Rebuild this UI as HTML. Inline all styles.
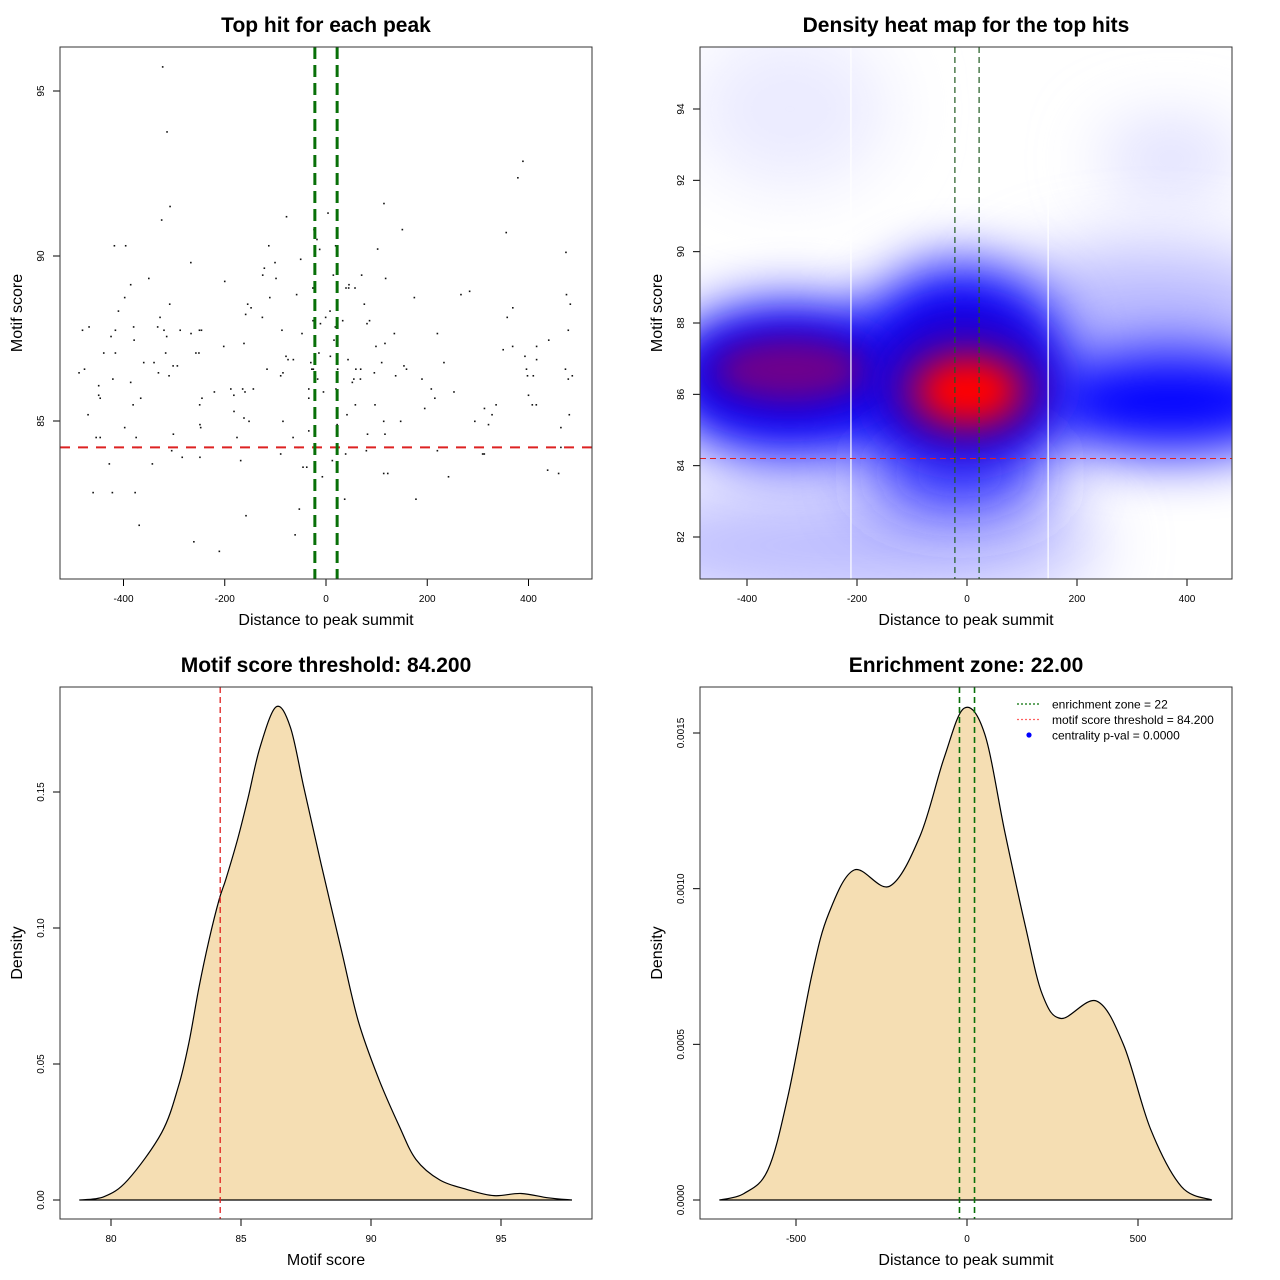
<!DOCTYPE html>
<html><head><meta charset="utf-8"><style>
html,body{margin:0;padding:0;background:#fff;}
svg{display:block;font-family:"Liberation Sans",sans-serif;}
</style></head><body>
<svg id="root" width="1280" height="1280" viewBox="0 0 1280 1280" xmlns="http://www.w3.org/2000/svg">
<defs>
<filter id="b35" filterUnits="userSpaceOnUse" x="500" y="-200" width="1000" height="1000"><feGaussianBlur stdDeviation="35"/></filter>
<filter id="b28" filterUnits="userSpaceOnUse" x="500" y="-200" width="1000" height="1000"><feGaussianBlur stdDeviation="28"/></filter>
<filter id="b20" filterUnits="userSpaceOnUse" x="500" y="-200" width="1000" height="1000"><feGaussianBlur stdDeviation="20"/></filter>
<filter id="b14" filterUnits="userSpaceOnUse" x="500" y="-200" width="1000" height="1000"><feGaussianBlur stdDeviation="14"/></filter>
<clipPath id="clip2"><rect x="700" y="47" width="532" height="532"/></clipPath>
</defs>
</svg>
<script>
// ---------- Panel 1 data (scatter) ----------
const scatterX = [-322.6,-314,-308,-324.6,-418,-395.7,-113,-78,-23.7,-17.8,-12.5,-50,-100.7,-121.8,-125,-98.7,-267,-350,-385.8,-200,-26,-58,-111,-397.6,-308.7,-410,-154.7,-148,-158.7,-125.7,-327.8,-25.7,-11,-0.7,-481,-468,-416,-380,-332.5,-320,-288,-250,-246,-87,-424.6,-379,-314.7,-266.6,-47.4,-202,-162,-439,-416,-316.7,-257,-251,-14,-79,-75,-64.5,-30,-360,-339.7,-302,-293.6,-487.8,-477,-331,-310,-421,-385.8,-116.5,-85,-89.5,-28,-25,-21,-16.5,-449,-449,-446,-366,-381,-245,-249.5,-220.5,-188,-182,-164.6,-160,-143.5,-34,-34,-5,-470,-181.7,-162,-152,-85,-249,-247.5,-397.6,-34,-21.7,-454,-446,-375,-301.5,-175.8,-65,-372,-54.6,-304.8,-284,-249,-89.5,-168.5,-428,-343,-45.4,-38,-7.2,-460,-422,-377,-52.7,-158,-369,-61,-261,-210.7,
389,379,114.5,4,150.8,356,19,102,474,14.5,70.4,117.8,45.4,39.5,44.8,57.3,174.5,266.6,283.7,475,482.6,369,75.7,8,358,23,33,86,81,18.4,478.6,135,220,15.8,116.5,98.7,440,350,368.7,416,8.6,43.5,393,416,110,233,23,59,68.5,154,159,95.5,396,473,137.6,398,409.5,486.5,478.6,55,68,52,189.6,19.7,208,252.8,215,400,58,96.8,336,407.5,415.4,195,313,41.5,328,480.6,114,147.5,294,321,22,464,82,116.5,464,38.8,79.7,220,309.4,312.7,12.5,437.8,459.5,114,122,242,36.9,177.7];
const scatterY = [95.73,93.76,91.5,91.09,90.31,90.31,90.31,91.19,90.8,90.5,90.2,89.9,89.8,89.63,89.42,89.32,89.8,89.32,89.13,89.23,89.03,88.83,88.74,88.74,88.54,88.33,88.54,88.43,88.23,88.14,88.14,88.04,87.95,88.14,87.75,87.85,87.75,87.85,87.85,87.75,87.75,87.75,87.75,87.75,87.56,87.45,87.56,87.65,87.65,87.26,87.35,87.06,87.06,87.06,87.06,87.06,87.06,86.96,86.86,86.86,86.77,86.77,86.77,86.67,86.67,86.46,86.57,86.46,86.37,86.27,86.17,86.57,86.46,86.37,86.57,86.57,86.37,86.27,86.07,85.78,85.69,85.69,85.49,85.69,85.49,85.88,85.97,85.78,85.97,85.88,85.97,85.97,85.69,85.88,85.19,85.29,85.09,84.99,84.99,84.89,84.8,84.8,84.7,84.6,84.5,84.5,84.5,84.6,84.5,84.5,84.2,84.2,84.1,83.9,83.9,84.0,83.8,83.7,83.7,83.6,83.6,83.31,82.83,82.83,82.83,82.33,82.13,81.84,81.55,81.34,81.05,
92.87,92.37,91.59,91.3,90.8,90.71,90.31,90.21,90.11,89.42,89.42,89.32,89.13,89.03,89.03,89.03,88.74,88.83,88.93,88.83,88.54,88.43,88.54,88.33,88.14,88.04,88.04,88.04,87.95,87.85,87.75,87.65,87.65,87.45,87.35,87.26,87.45,87.16,87.26,87.26,86.96,86.86,86.96,86.86,86.77,86.77,86.57,86.57,86.57,86.67,86.57,86.46,86.57,86.57,86.37,86.37,86.37,86.37,86.27,86.27,86.27,86.17,86.27,85.97,85.97,85.88,85.69,85.78,85.49,85.49,85.49,85.49,85.49,85.38,85.38,85.19,85.19,85.19,84.99,84.99,84.99,84.89,84.89,84.8,84.6,84.6,84.2,84.0,84.1,84.1,84.0,84.0,83.8,83.51,83.41,83.41,83.41,83.31,82.63,82.63];
const scatterXTicks = [-400,-200,0,200,400];
const scatterYTicks = [85,90,95];
const enrichZone = 22;
const scoreThreshold = 84.2;

// ---------- Panel 2 data (heat map density blobs: x, y, spread x, spread y, level) ----------
const heatXTicks = [-400,-200,0,200,400];
const heatYTicks = [82,84,86,88,90,92,94];
const blobX  = [-322, 371, -213, 332, -322, -13, 371, -13, -322, -4, -322, 2, 2];
const blobY  = [94.0, 92.6, 81.76, 88.4, 86.4, 86.6, 85.8, 83.8, 86.6, 86.3, 86.7, 86.1, 86.1];
const blobSX = [182, 128, 455, 273, 237, 200, 250, 170, 182, 164, 128, 128, 82];
const blobSY = [2.24, 0.98, 1.68, 1.68, 2.2, 3.1, 1.5, 1.0, 1.2, 2.0, 0.8, 1.3, 0.8];
const blobLevel = [0.08, 0.15, 0.26, 0.28, 1, 1, 1, 0.8, 1.4, 1.4, 1.7, 1.7, 2];
const heatSeams = [-211,147.5];

// ---------- Panel 3 data (score density) ----------
const scoreX = [78.78,79.73,80.65,81.95,82.6,83.0,83.38,83.77,84.16,84.42,84.88,85.27,85.73,86.35,86.9,87.42,88.07,88.86,89.51,90.29,91.08,91.73,92.64,93.68,94.73,95.77,96.81,97.73];
const scoreD = [0,0.0012,0.0074,0.0248,0.042,0.058,0.078,0.0956,0.1105,0.118,0.133,0.1478,0.1664,0.1813,0.1738,0.1515,0.124,0.0919,0.0658,0.0447,0.0273,0.0149,0.0074,0.0039,0.0016,0.0024,0.0008,0];
const scoreXTicks = [80,85,90,95];
const scoreYTicks = [0,0.05,0.10,0.15];
const scoreYLabels = ['0.00','0.05','0.10','0.15'];

// ---------- Panel 4 data (distance density) ----------
const distX = [-724,-652,-582,-523,-453,-404,-330,-226,-137,-67,-8,52,111,171,220,275,379,458,537,627,716];
const distD = [0,0.000021,0.000097,0.000336,0.000726,0.000921,0.00106,0.001008,0.00117,0.00142,0.00158,0.001496,0.00118,0.000878,0.000661,0.000583,0.000639,0.000498,0.000227,0.000043,0];
const distXTicks = [-500,0,500];
const distYTicks = [0,0.0005,0.0010,0.0015];
const distYLabels = ['0.0000','0.0005','0.0010','0.0015'];

const NS='http://www.w3.org/2000/svg';
const root=document.getElementById('root');
function el(tag,attrs,parent){const e=document.createElementNS(NS,tag);for(const k in attrs)e.setAttribute(k,attrs[k]);(parent||root).appendChild(e);return e;}
function lin(d0,d1,p0,p1){return v=>p0+(v-d0)*(p1-p0)/(d1-d0);}

function axes(g,box,xs,ys,xt,yt,xl,yl,xtitle,ytitle,title){
  const xa=el('g',{},g);
  
  
  el('line',{x1:xs(xt[0]),x2:xs(xt[xt.length-1]),y1:box.y1,y2:box.y1,stroke:'#000'},xa);
  xt.forEach((t,i)=>{
    el('line',{x1:xs(t),x2:xs(t),y1:box.y1,y2:box.y1+7,stroke:'#000'},xa);
    const tx=el('text',{x:xs(t),y:box.y1+23,'font-size':10,'text-anchor':'middle'},xa);
    
    
    tx.textContent=xl?xl[i]:String(t);
  });
  const ya=el('g',{},g);
  
  
  el('line',{x1:box.x0,x2:box.x0,y1:ys(yt[0]),y2:ys(yt[yt.length-1]),stroke:'#000'},ya);
  yt.forEach((t,i)=>{
    const y=ys(t);
    el('line',{x1:box.x0-7,x2:box.x0,y1:y,y2:y,stroke:'#000'},ya);
    const tx=el('text',{x:0,y:0,'font-size':10,'text-anchor':'middle',transform:`translate(${box.x0-16},${y}) rotate(-90)`},ya);
    
    
    tx.textContent=yl?yl[i]:String(t);
  });
  el('rect',{x:box.x0,y:box.y0,width:box.x1-box.x0,height:box.y1-box.y0,fill:'none',stroke:'#333'},g);
  const xtl=el('text',{x:(box.x0+box.x1)/2,y:box.y1+46,'font-size':16,'text-anchor':'middle'},g);
  
  
  xtl.textContent=xtitle;
  const ytl=el('text',{x:0,y:0,'font-size':16,'text-anchor':'middle',transform:`translate(${box.x0-38},${(box.y0+box.y1)/2}) rotate(-90)`},g);
  
  
  ytl.textContent=ytitle;
  const tt=el('text',{x:(box.x0+box.x1)/2,y:box.y0-15,'font-size':21,'font-weight':'bold','text-anchor':'middle'},g);
  
  
  tt.textContent=title;
}

function smoothPath(pts){
  let d=`M${pts[0][0]},${pts[0][1]}`;
  for(let i=0;i<pts.length-1;i++){
    const p0=pts[Math.max(0,i-1)],p1=pts[i],p2=pts[i+1],p3=pts[Math.min(pts.length-1,i+2)];
    const c1=[p1[0]+(p2[0]-p0[0])/6,p1[1]+(p2[1]-p0[1])/6];
    const c2=[p2[0]-(p3[0]-p1[0])/6,p2[1]-(p3[1]-p1[1])/6];
    d+=` C${c1[0]},${c1[1]} ${c2[0]},${c2[1]} ${p2[0]},${p2[1]}`;
  }
  return d;
}
// white -> blue -> red palette
function levelStyle(l){
  if(l<=1){const c=Math.round(255*(1-l));return {fill:`rgb(${c},${c},255)`,op:1};}
  if(l<1.5) return {fill:'#2a00c8',op:1};
  if(l<1.9) return {fill:'#750085',op:0.9};
  return {fill:'#ff0000',op:1};
}

// ===== Panel 1 =====
{
  const box={x0:60,x1:592,y0:47,y1:579};
  const xs=lin(0,400,326,528.5), ys=lin(90,95,256,91);
  const g=el('g',{});
  
  
  const pg=el('g',{},g);
  
  
  for(let i=0;i<scatterX.length;i++){
    const r=el('rect',{x:xs(scatterX[i])-0.8,y:ys(scatterY[i])-0.8,width:1.6,height:1.6,fill:'#111'},pg);
    
    
  }
  const th=el('line',{x1:box.x0,x2:box.x1,y1:ys(scoreThreshold),y2:ys(scoreThreshold),stroke:'#dd2222','stroke-width':2,'stroke-dasharray':'10,8'},g);
  
  
  [-enrichZone,enrichZone].forEach(v=>{
    const l=el('line',{x1:xs(v),x2:xs(v),y1:box.y0,y2:box.y1,stroke:'#087008','stroke-width':3,'stroke-dasharray':'12,6'},g);
    
    
  });
  axes(g,box,xs,ys,scatterXTicks,scatterYTicks,null,null,'Distance to peak summit','Motif score','Top hit for each peak');
}

// ===== Panel 2 =====
{
  const box={x0:700,x1:1232,y0:47,y1:579};
  const xs=lin(0,400,967,1187), ys=lin(82,94,537,109);
  const sx=0.549, sy=35.67;
  const g=el('g',{});
  
  
  const hm=el('g',{'clip-path':'url(#clip2)'},g);
  
  
  el('rect',{x:700,y:47,width:532,height:532,fill:'#fff'},hm);
  for(let i=0;i<blobX.length;i++){
    const st=levelStyle(blobLevel[i]);
    const l=blobLevel[i];
    const f=l<1?'url(#b35)':(l<=1?'url(#b28)':(l<1.5?'url(#b20)':'url(#b14)'));
    const e=el('ellipse',{cx:xs(blobX[i]),cy:ys(blobY[i]),rx:blobSX[i]*sx,ry:blobSY[i]*sy,fill:st.fill,'fill-opacity':st.op,filter:f},hm);
    
    
  }
  heatSeams.forEach(v=>el('line',{x1:xs(v),x2:xs(v),y1:box.y0,y2:box.y1,stroke:'#fff','stroke-width':1.2},hm));
  const th=el('line',{x1:box.x0,x2:box.x1,y1:ys(scoreThreshold),y2:ys(scoreThreshold),stroke:'#e02020','stroke-width':1,'stroke-dasharray':'6,4'},g);
  
  
  [-enrichZone,enrichZone].forEach(v=>{
    const l=el('line',{x1:xs(v),x2:xs(v),y1:box.y0,y2:box.y1,stroke:'#1f5a1f','stroke-width':1.2,'stroke-dasharray':'6,4'},g);
    
    
  });
  axes(g,box,xs,ys,heatXTicks,heatYTicks,null,null,'Distance to peak summit','Motif score','Density heat map for the top hits');
}

// ===== Panel 3 =====
{
  const box={x0:60,x1:592,y0:687,y1:1219};
  const xs=lin(80,95,111,501), ys=lin(0,0.15,1200,792);
  const g=el('g',{});
  
  
  const pts=scoreX.map((x,i)=>[xs(x),ys(scoreD[i])]);
  const p=el('path',{d:smoothPath(pts)+' Z',fill:'#f5deb3',stroke:'#000','stroke-width':1.2},g);
  
  
  const th=el('line',{x1:xs(scoreThreshold),x2:xs(scoreThreshold),y1:box.y0,y2:box.y1,stroke:'#e02020','stroke-width':1.3,'stroke-dasharray':'6,4'},g);
  
  
  axes(g,box,xs,ys,scoreXTicks,scoreYTicks,null,scoreYLabels,'Motif score','Density','Motif score threshold: 84.200');
}

// ===== Panel 4 =====
{
  const box={x0:700,x1:1232,y0:687,y1:1219};
  const xs=lin(0,500,967,1138), ys=lin(0,0.0015,1200,733);
  const g=el('g',{});
  
  
  const pts=distX.map((x,i)=>[xs(x),ys(distD[i])]);
  const p=el('path',{d:smoothPath(pts)+' Z',fill:'#f5deb3',stroke:'#000','stroke-width':1.2},g);
  
  
  [-enrichZone,enrichZone].forEach(v=>{
    const l=el('line',{x1:xs(v),x2:xs(v),y1:box.y0,y2:box.y1,stroke:'#087008','stroke-width':1.6,'stroke-dasharray':'6,4'},g);
    
    
  });
  const lg=el('g',{},g);
  
  
  const items=[['enrichment zone = 22','#087008','line'],['motif score threshold = 84.200','#ff6060','line'],['centrality p-val = 0.0000','#0000ff','dot']];
  items.forEach((it,i)=>{
    const y=704+i*15.5;
    const eg=el('g',{},lg);
    
    
    if(it[2]=='line') el('line',{x1:1017,x2:1041,y1:y,y2:y,stroke:it[1],'stroke-width':1.2,'stroke-dasharray':'2,2'},eg);
    else el('circle',{cx:1029,cy:y,r:2.6,fill:it[1]},eg);
    const t=el('text',{x:1052,y:y+4.5,'font-size':12},eg);
    t.textContent=it[0];
  });
  axes(g,box,xs,ys,distXTicks,distYTicks,null,distYLabels,'Distance to peak summit','Density','Enrichment zone: 22.00');
}
</script>
</body></html>
